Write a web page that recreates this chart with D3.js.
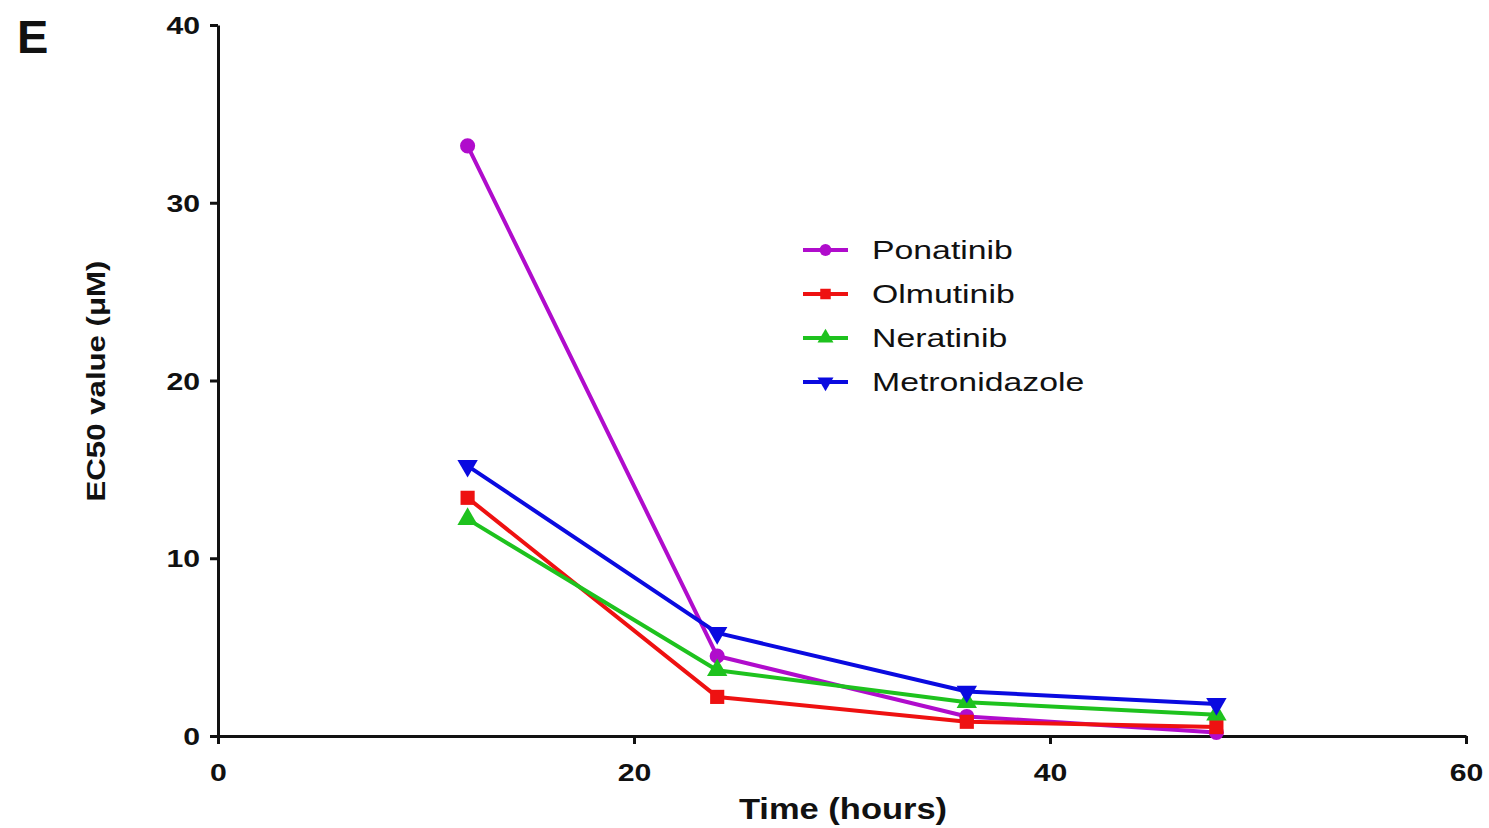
<!DOCTYPE html>
<html><head><meta charset="utf-8">
<script src="https://cdn.jsdelivr.net/npm/d3@7"></script>
<style>body{margin:0;background:#fff}svg{display:block}</style>
</head><body>
<script>
const times = [12, 24, 36, 48];
const seriesNames = ["Ponatinib", "Olmutinib", "Neratinib", "Metronidazole"];
const ponatinib = [33.2, 4.5, 1.1, 0.2];
const olmutinib = [13.4, 2.2, 0.8, 0.5];
const neratinib = [12.2, 3.7, 1.9, 1.2];
const metronidazole = [15.2, 5.8, 2.5, 1.8];
const xTicks = [0, 20, 40, 60];
const yTicks = [0, 10, 20, 30, 40];

const colors = ["#b00ccc", "#ee1111", "#1ec21e", "#0a0ae0"];
const symbols = [d3.symbolCircle, d3.symbolSquare, d3.symbolTriangle, d3.symbolTriangle];
const rotations = [0, 0, 0, 180];
const series = [ponatinib, olmutinib, neratinib, metronidazole].map((v, i) => ({name: seriesNames[i], values: v, color: colors[i], sym: symbols[i], rot: rotations[i]}));

const W = 1489, H = 828;
const svg = d3.select("body").append("svg").attr("width", W).attr("height", H);
const x = d3.scaleLinear().domain([0, 60]).range([218, 1466]);
const y = d3.scaleLinear().domain([0, 40]).range([736, 25]);

const font = "'Liberation Sans', Arial, sans-serif";
const SX = 1.26;

const xAxis = svg.append("g").attr("transform", "translate(0,736)")
  .call(d3.axisBottom(x).tickValues(xTicks).tickSize(8).tickSizeOuter(0));
const yAxis = svg.append("g").attr("transform", "translate(218,0)")
  .call(d3.axisLeft(y).tickValues(yTicks).tickSize(8).tickSizeOuter(0));
[xAxis, yAxis].forEach(g => {
  g.select(".domain").attr("stroke", "#111").attr("stroke-width", 3);
  g.selectAll(".tick line").attr("stroke", "#111").attr("stroke-width", 3);
  g.selectAll(".tick text").attr("fill", "#111").style("font-family", font).style("font-weight", "bold").style("font-size", "24px");
});
xAxis.selectAll(".tick text").attr("y", 45).attr("dy", 0).attr("transform", `scale(${SX},1)`);
yAxis.selectAll(".tick text").attr("x", -18 / SX).attr("dy", "0.36em").attr("transform", `scale(${SX},1)`);

const line = d3.line().x((d, i) => x(times[i])).y(d => y(d));
series.forEach(s => {
  svg.append("path").datum(s.values).attr("d", line).attr("fill", "none")
    .attr("stroke", s.color).attr("stroke-width", 4).attr("stroke-linejoin", "round");
  svg.selectAll(null).data(s.values).enter().append("path")
    .attr("d", d3.symbol().type(s.sym).size(s.sym === d3.symbolSquare ? 200 : 180))
    .attr("transform", (d, i) => `translate(${x(times[i])},${y(d)}) rotate(${s.rot})`)
    .attr("fill", s.color);
});

// legend
const lg = svg.append("g");
series.forEach((s, i) => {
  const yy = 250 + i * 44;
  lg.append("line").attr("x1", 803).attr("x2", 848).attr("y1", yy).attr("y2", yy)
    .attr("stroke", s.color).attr("stroke-width", 4);
  lg.append("path").attr("d", d3.symbol().type(s.sym).size(110))
    .attr("transform", `translate(825.5,${yy}) rotate(${s.rot})`).attr("fill", s.color);
  lg.append("text").attr("transform", `translate(872,${yy + 9}) scale(1.3,1)`).text(s.name)
    .style("font-family", font).style("font-size", "26px").attr("fill", "#111");
});

svg.append("text").attr("transform", "translate(843,819) scale(1.15,1)").attr("text-anchor", "middle")
  .text("Time (hours)").style("font-family", font).style("font-weight", "bold").style("font-size", "30px").attr("fill", "#111");
svg.append("text").attr("transform", "translate(105,381) rotate(-90) scale(1.2,1)").attr("text-anchor", "middle")
  .text("EC50 value (μM)").style("font-family", font).style("font-weight", "bold").style("font-size", "26px").attr("fill", "#111");
svg.append("text").attr("x", 17).attr("y", 53).text("E")
  .style("font-family", font).style("font-weight", "bold").style("font-size", "47px").attr("fill", "#111");
</script>
</body></html>
